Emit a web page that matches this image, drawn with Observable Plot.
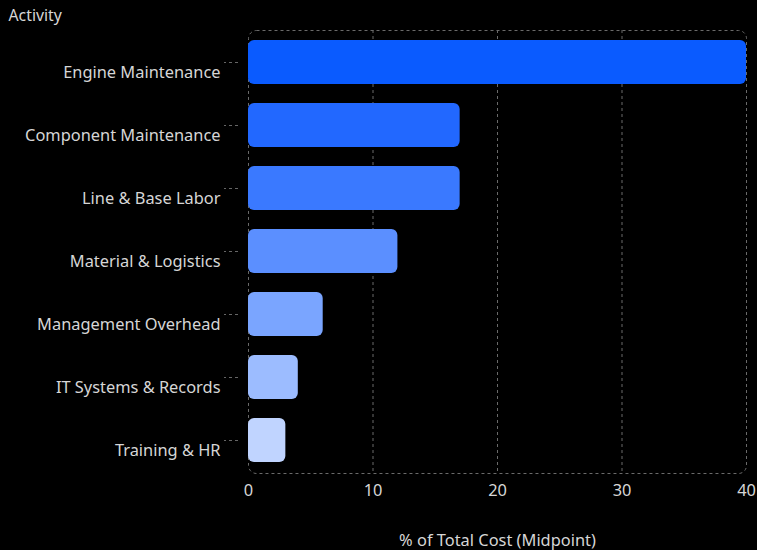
<!DOCTYPE html>
<html>
<head>
<meta charset="utf-8">
<script src="https://cdn.jsdelivr.net/npm/d3@7"></script>
<script src="https://cdn.jsdelivr.net/npm/@observablehq/plot@0.6"></script>
<style>
  html, body { margin: 0; padding: 0; background: #000; }
  #chart { width: 757px; height: 550px; }
</style>
</head>
<body>
<div id="chart"></div>
<script>
const activities = [
  "Engine Maintenance",
  "Component Maintenance",
  "Line & Base Labor",
  "Material & Logistics",
  "Management Overhead",
  "IT Systems & Records",
  "Training & HR"
];
const shares = [40, 17, 17, 12, 6, 4, 3];
const barColors = ["#0a5bff", "#2268ff", "#3a79ff", "#5b8fff", "#7aa5ff", "#9cbcff", "#c0d4ff"];
const xTicks = [0, 10, 20, 30, 40];
const yTitle = "Activity";
const xTitle = "% of Total Cost (Midpoint)";

const data = activities.map((a, i) => ({activity: a, share: shares[i], color: barColors[i]}));

const chart = Plot.plot({
  width: 757,
  height: 550,
  marginLeft: 248,
  marginRight: 11,
  marginTop: 30,
  marginBottom: 77,
  style: {background: "#000", color: "#d6d6d6", fontFamily: "'Noto Sans', 'Open Sans', sans-serif", fontSize: "16.4px"},
  x: {domain: [0, 40], ticks: xTicks},
  y: {domain: activities, padding: 0.3, paddingOuter: 0.15},
  marks: [
    Plot.gridX(xTicks.slice(1, -1), {stroke: "#6a6a6a", strokeOpacity: 1, strokeDasharray: "3 3"}),
    Plot.frame({stroke: "#6a6a6a", strokeDasharray: "3 3", rx: 8}),
    Plot.barX(data, {x: "share", y: "activity", fill: "color", rx: 6}),
    Plot.axisY({tickSize: 14, text: null, dx: -10, stroke: "#666", strokeDasharray: "3 3", label: null}),
    Plot.axisY({tickSize: 0, tickPadding: 28, dy: 10, fill: "#d6d6d6", label: null}),
    Plot.text([yTitle], {frameAnchor: "top-left", dx: -240, dy: -15, textAnchor: "start", lineAnchor: "middle", fill: "#d6d6d6", fontSize: 15.8}),
    Plot.axisX(xTicks, {tickSize: 0, tickPadding: 11, fill: "#d6d6d6", label: xTitle, labelAnchor: "center", labelArrow: "none", labelOffset: 72})
  ]
});
document.getElementById("chart").append(chart);
</script>
</body>
</html>
